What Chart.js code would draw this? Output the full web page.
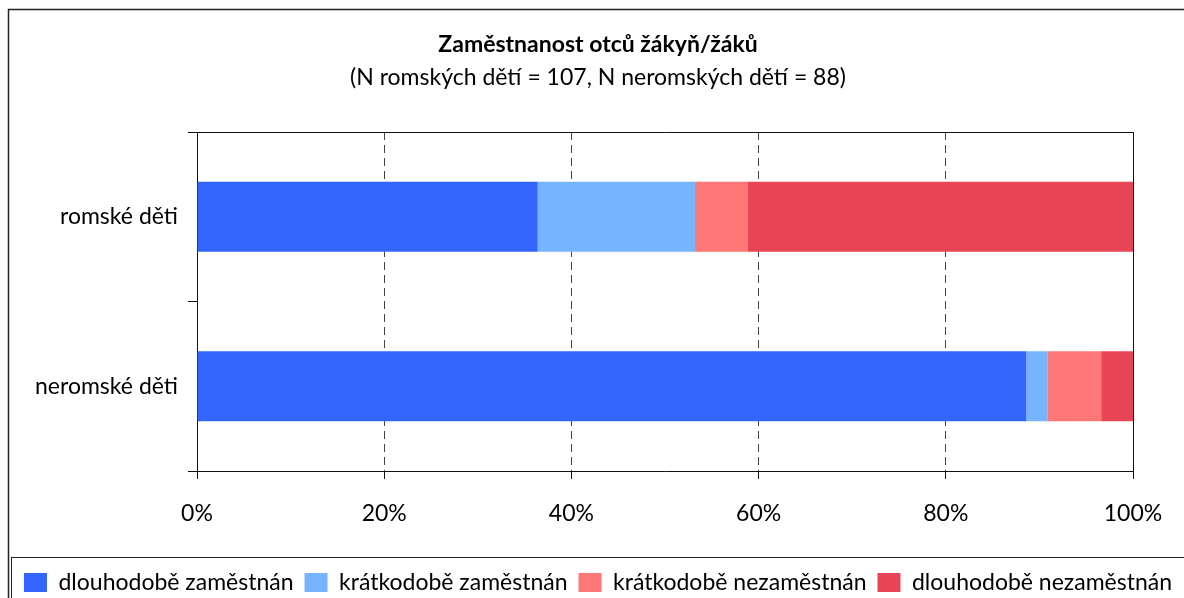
<!DOCTYPE html>
<html>
<head>
    <title>Zaměstnanost otců žákyň/žáků</title>
    <script src="https://cdn.jsdelivr.net/npm/chart.js"></script>
    <style>
        html, body {
            margin: 0;
            padding: 0;
            background: #fff;
            overflow: hidden;
        }
        canvas {
            display: block;
        }
    </style>
</head>
<body>
    <canvas id="employmentChart" width="1184" height="604"></canvas>

    <script>
        // categories and values (percent of children)
        const categories = ['romské děti', 'neromské děti'];
        const seriesNames = ['dlouhodobě zaměstnán', 'krátkodobě zaměstnán', 'krátkodobě nezaměstnán', 'dlouhodobě nezaměstnán'];
        const dlouhodobeZamestnan = [36.4, 88.6];
        const kratkodobeZamestnan = [16.8, 2.3];
        const kratkodobeNezamestnan = [5.6, 5.7];
        const dlouhodobeNezamestnan = [41.2, 3.4];
        const xTickValues = [0, 20, 40, 60, 80, 100];

        const seriesColors = ['#3366FF', '#77B4FF', '#FF7777', '#E84656'];
        const fontFamily = "Lato, 'Open Sans', sans-serif";

        // frame around whole chart and around the legend, plus plot border
        const framePlugin = {
            id: 'frames',
            beforeDraw(chart) {
                const ctx = chart.ctx;
                ctx.save();
                ctx.fillStyle = '#fff';
                ctx.fillRect(0, 0, chart.width, chart.height);
                ctx.strokeStyle = '#222';
                ctx.lineWidth = 1.5;
                ctx.strokeRect(8.5, 9.5, chart.width + 20, chart.height + 20);
                ctx.lineWidth = 1;
                ctx.strokeRect(11.5, 557.5, chart.width + 20, chart.height);
                ctx.restore();
            },
            afterDatasetsDraw(chart) {
                const a = chart.chartArea;
                const ctx = chart.ctx;
                ctx.save();
                ctx.strokeStyle = '#111';
                ctx.lineWidth = 1;
                ctx.beginPath();
                ctx.moveTo(a.left, Math.round(a.top) + 0.5);
                ctx.lineTo(Math.round(a.right) + 0.5, Math.round(a.top) + 0.5);
                ctx.lineTo(Math.round(a.right) + 0.5, a.bottom);
                ctx.stroke();
                ctx.restore();
            }
        };

        const seriesData = [dlouhodobeZamestnan, kratkodobeZamestnan, kratkodobeNezamestnan, dlouhodobeNezamestnan];

        const ctx = document.getElementById('employmentChart').getContext('2d');
        new Chart(ctx, {
            type: 'bar',
            data: {
                labels: categories,
                datasets: seriesNames.map((name, i) => ({
                    label: name,
                    data: seriesData[i],
                    backgroundColor: seriesColors[i],
                    borderWidth: 0,
                    barPercentage: 0.412,
                    categoryPercentage: 1,
                    yAxisID: 'y'
                }))
            },
            options: {
                indexAxis: 'y',
                responsive: false,
                animation: false,
                devicePixelRatio: 1,
                layout: {
                    padding: { left: 12, right: 0, top: 0, bottom: 0 }
                },
                plugins: {
                    title: {
                        display: true,
                        text: 'Zaměstnanost otců žákyň/žáků',
                        color: '#000',
                        font: { family: fontFamily, size: 23, weight: 'bold', lineHeight: 1.2 },
                        padding: { top: 31, bottom: 5.6 }
                    },
                    subtitle: {
                        display: true,
                        text: '(N romských dětí = 107, N neromských dětí = 88)',
                        color: '#000',
                        font: { family: fontFamily, size: 23, lineHeight: 1.2 },
                        padding: { top: 0, bottom: 40.2 }
                    },
                    legend: {
                        position: 'bottom',
                        labels: {
                            color: '#000',
                            font: { family: fontFamily, size: 23 },
                            boxWidth: 23,
                            boxHeight: 19,
                            padding: 11
                        }
                    },
                    tooltip: { enabled: false }
                },
                scales: {
                    x: {
                        stacked: true,
                        min: 0,
                        max: 100,
                        afterBuildTicks(scale) {
                            scale.ticks = xTickValues.map(v => ({ value: v }));
                        },
                        afterFit(scale) {
                            scale.height = 89;
                        },
                        ticks: {
                            color: '#000',
                            font: { family: fontFamily, size: 23 },
                            padding: 21,
                            maxRotation: 0,
                            callback: v => v + '%'
                        },
                        grid: {
                            color: '#444',
                            lineWidth: 1,
                            tickLength: 8,
                            tickColor: '#111'
                        },
                        border: {
                            display: true,
                            color: '#111',
                            dash: [8, 5]
                        }
                    },
                    y: {
                        stacked: true,
                        position: 'left',
                        afterFit(scale) {
                            scale.width = 185;
                        },
                        ticks: {
                            color: '#000',
                            font: { family: fontFamily, size: 23 },
                            padding: 10
                        },
                        grid: {
                            display: true,
                            offset: true,
                            drawOnChartArea: false,
                            tickLength: 9,
                            color: '#111'
                        },
                        border: {
                            display: true,
                            color: '#111'
                        }
                    },
                    yRight: {
                        type: 'category',
                        position: 'right',
                        display: true,
                        afterFit(scale) {
                            scale.width = 51;
                        },
                        ticks: { display: false },
                        grid: { display: false },
                        border: { display: false }
                    }
                }
            },
            plugins: [framePlugin]
        });
    </script>
</body>
</html>
